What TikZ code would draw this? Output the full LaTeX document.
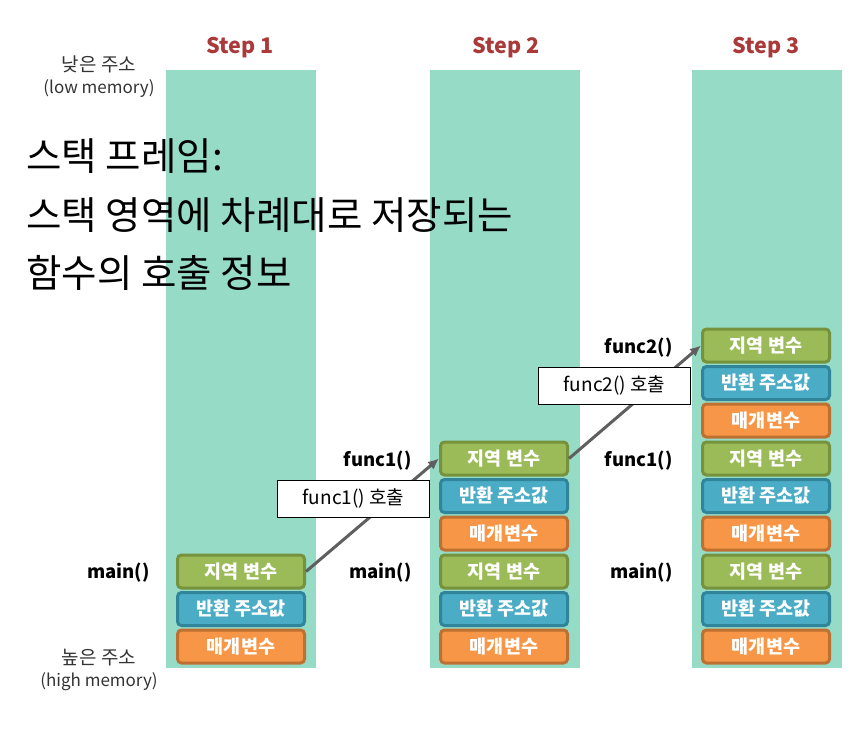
\documentclass[tikz,border=0pt]{standalone}
\usepackage{fontspec}
\setmainfont{Noto Sans CJK KR}
\usetikzlibrary{arrows.meta,positioning}
\definecolor{stackteal}{RGB}{150,219,197}
\definecolor{steptitle}{RGB}{170,58,58}
\definecolor{localgreen}{RGB}{155,187,89}
\definecolor{localgreenline}{RGB}{118,146,60}
\definecolor{retblue}{RGB}{75,172,198}
\definecolor{retblueline}{RGB}{49,133,155}
\definecolor{paramorange}{RGB}{247,150,70}
\definecolor{paramorangeline}{RGB}{190,112,50}
\definecolor{arrowgray}{RGB}{95,95,95}

\begin{document}
\begin{tikzpicture}[x=1pt,y=-1pt,>=Latex,
  varbox/.style={draw=#1line,fill=#1,line width=3pt,rounded corners=4pt,
    minimum width=127pt,minimum height=33pt,inner sep=0pt,
    text=white,font=\fontsize{18.5}{18.5}\selectfont\bfseries},
  steplabel/.style={text=steptitle,font=\fontsize{21.5}{21.5}\selectfont\bfseries},
  funclabel/.style={anchor=east,font=\fontsize{18.5}{18.5}\selectfont\bfseries},
  memlabel/.style={align=center,text=black!80,font=\fontsize{19}{22}\selectfont},
  calllabel/.style={draw=black,fill=white,line width=0.8pt,minimum width=152pt,
    minimum height=37pt,font=\fontsize{19}{19}\selectfont},
  callarrow/.style={-{Latex[length=11pt,width=10pt]},arrowgray,line width=3pt}]
 \useasboundingbox (0,0) rectangle (864,754);
 % stack columns
 \fill[stackteal] (166,70) rectangle (316,668);
 \fill[stackteal] (430,70) rectangle (580,668);
 \fill[stackteal] (692,70) rectangle (842,668);
 \node[steplabel] (title1) at (240,48) {Step 1};
 \node[steplabel] (title2) at (506,48) {Step 2};
 \node[steplabel] (title3) at (766,48) {Step 3};
 % memory direction
 \node[memlabel] (lowmem) at (99,77) {낮은 주소\\{\fontsize{17}{17}\selectfont(low memory)}};
 \node[memlabel] (highmem) at (99,670) {높은 주소\\{\fontsize{17}{17}\selectfont(high memory)}};
 % caption
 \node[anchor=west,font=\fontsize{38.5}{38.5}\selectfont] (cap1) at (23,156) {스택 프레임:};
 \node[anchor=west,font=\fontsize{38.5}{38.5}\selectfont] (cap2) at (23,215) {스택 영역에 차례대로 저장되는};
 \node[anchor=west,font=\fontsize{38.5}{38.5}\selectfont] (cap3) at (23,273) {함수의 호출 정보};
 % Step 1
 \node[varbox=paramorange] (s1mainpar) at (241,646.5) {매개변수};
 \node[varbox=retblue] (s1mainret) at (241,609) {반환 주소값};
 \node[varbox=localgreen] (s1mainloc) at (241,571.5) {지역 변수};
 \node[funclabel] (s1main) at (153,573) {main()};
 % Step 2
 \node[varbox=paramorange] (s2mainpar) at (504,646.5) {매개변수};
 \node[varbox=retblue] (s2mainret) at (504,609) {반환 주소값};
 \node[varbox=localgreen] (s2mainloc) at (504,571.5) {지역 변수};
 \node[varbox=paramorange] (s2f1par) at (504,533.5) {매개변수};
 \node[varbox=retblue] (s2f1ret) at (504,496) {반환 주소값};
 \node[varbox=localgreen] (s2f1loc) at (504,458.5) {지역 변수};
 \node[funclabel] (s2main) at (415,573) {main()};
 \node[funclabel] (s2f1) at (415,461) {func1()};
 % Step 3
 \node[varbox=paramorange] (s3mainpar) at (766,646.5) {매개변수};
 \node[varbox=retblue] (s3mainret) at (766,609) {반환 주소값};
 \node[varbox=localgreen] (s3mainloc) at (766,571.5) {지역 변수};
 \node[varbox=paramorange] (s3f1par) at (766,533.5) {매개변수};
 \node[varbox=retblue] (s3f1ret) at (766,496) {반환 주소값};
 \node[varbox=localgreen] (s3f1loc) at (766,458.5) {지역 변수};
 \node[varbox=paramorange] (s3f2par) at (766,420.5) {매개변수};
 \node[varbox=retblue] (s3f2ret) at (766,383) {반환 주소값};
 \node[varbox=localgreen] (s3f2loc) at (766,345.5) {지역 변수};
 \node[funclabel] (s3main) at (676,573) {main()};
 \node[funclabel] (s3f1) at (676,461) {func1()};
 \node[funclabel] (s3f2) at (676,348) {func2()};
 % calls
 \draw[callarrow] (s1mainloc.east) -- (s2f1loc.west);
 \draw[callarrow] (s2f1loc.east) -- (s3f2loc.west);
 \node[calllabel] (call1) at (353.5,498.5) {func1() 호출};
 \node[calllabel] (call2) at (614.5,385.5) {func2() 호출};
\end{tikzpicture}
\end{document}
